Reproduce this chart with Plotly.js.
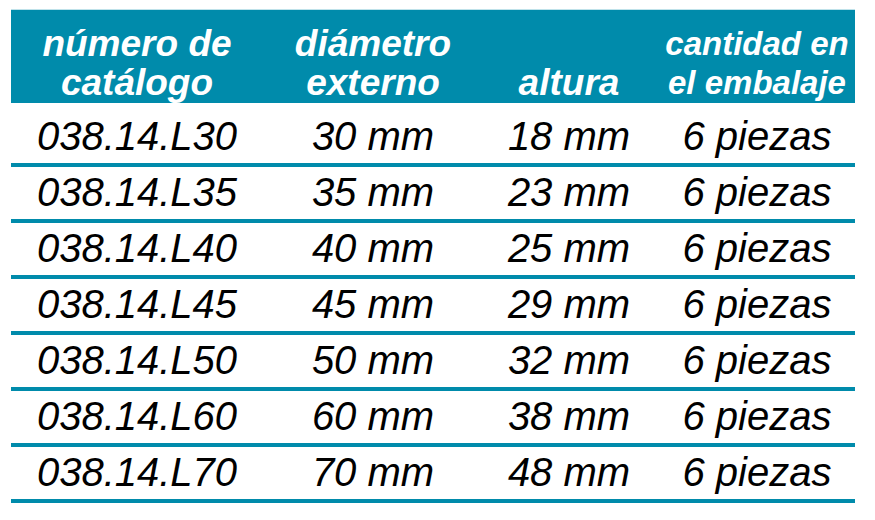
<!DOCTYPE html>
<html>
<head>
<meta charset="utf-8">
<script src="https://cdn.plot.ly/plotly-3.0.1.min.js"></script>
<style>
  html, body { margin: 0; padding: 0; background: #fff; }
  #chart { width: 875px; height: 520px; }
</style>
</head>
<body>
<div id="chart"></div>
<script>
// table contents
const catalogNumbers = ['038.14.L30', '038.14.L35', '038.14.L40', '038.14.L45', '038.14.L50', '038.14.L60', '038.14.L70'];
const outerDiameters = [30, 35, 40, 45, 50, 60, 70];
const heights = [18, 23, 25, 29, 32, 38, 48];
const piecesPerPack = [6, 6, 6, 6, 6, 6, 6];
const headerTop = ['número de', 'diámetro', '', 'cantidad en'];
const headerBottom = ['catálogo', 'externo', 'altura', 'el embalaje'];

const teal = '#008bab';
const font = 'Liberation Sans, Arial, sans-serif';

// column centres along x (pixel-like units), table edges
const colX = [137, 373, 569, 757];
const left = 11, right = 855;
const rowIdx = catalogNumbers.map((_, i) => i);

const columns = [
    catalogNumbers,
    outerDiameters.map(v => `${v} mm`),
    heights.map(v => `${v} mm`),
    piecesPerPack.map(v => `${v} piezas`),
];

const data = columns.map((texts, c) => ({
    type: 'scatter',
    mode: 'text',
    x: rowIdx.map(() => colX[c]),
    y: rowIdx.map(i => i + 0.06),
    text: texts,
    textposition: 'middle center',
    textfont: { family: font, size: 40, color: '#000', style: 'italic' },
    hoverinfo: 'skip',
    showlegend: false,
}));

[[headerTop, -1.62], [headerBottom, -0.91]].forEach(([texts, yPos]) => {
    data.push({
        type: 'scatter',
        mode: 'text',
        x: colX,
        y: colX.map(() => yPos),
        text: texts,
        textposition: 'middle center',
        textfont: {
            family: font,
            size: texts.map((_, c) => c === 3 ? 33 : 37),
            color: '#fff',
            style: 'italic',
            weight: 'bold',
        },
        hoverinfo: 'skip',
        showlegend: false,
    });
});

const shapes = [{
    type: 'rect', xref: 'x', yref: 'y',
    x0: left, x1: right, y0: -2.27, y1: -0.607,
    fillcolor: teal, line: { width: 0 }, layer: 'below',
}];
rowIdx.forEach(i => {
    shapes.push({
        type: 'line', xref: 'x', yref: 'y',
        x0: left, x1: right, y0: i + 0.5, y1: i + 0.5,
        line: { color: teal, width: 4 }, layer: 'below',
    });
});

const layout = {
    width: 875,
    height: 520,
    margin: { l: 0, r: 0, t: 0, b: 0 },
    paper_bgcolor: '#fff',
    plot_bgcolor: '#fff',
    xaxis: { range: [0, 875], visible: false, fixedrange: true },
    yaxis: { range: [6.839, -2.446], visible: false, fixedrange: true },
    shapes,
};

Plotly.newPlot('chart', data, layout, { staticPlot: true });
</script>
</body>
</html>
